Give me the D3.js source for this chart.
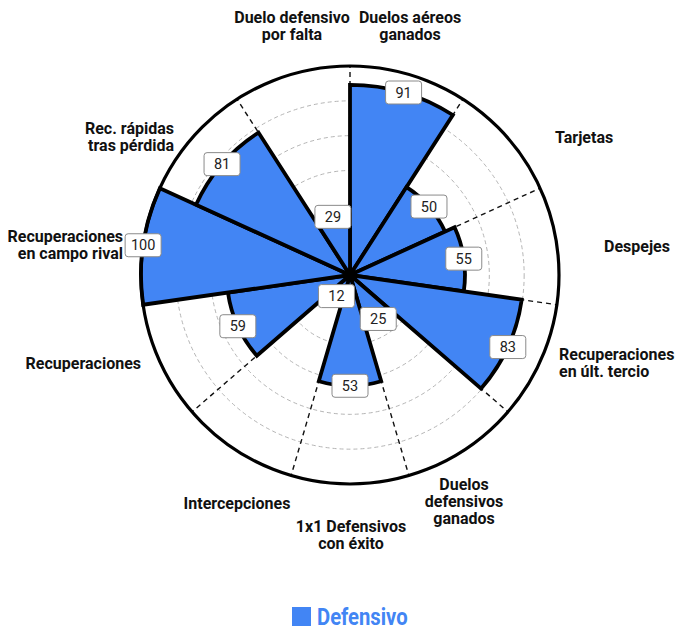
<!DOCTYPE html>
<html>
<head>
<meta charset="utf-8">
<script src="https://cdn.jsdelivr.net/npm/d3@7/dist/d3.min.js"></script>
<style>
  html, body { margin: 0; padding: 0; background: #ffffff; }
  svg { display: block; }
</style>
</head>
<body>
<svg id="chart" width="677" height="629"></svg>
<script>
// ---- data ----
const categories = [
  "Duelos aéreos ganados", "Tarjetas", "Despejes", "Recuperaciones en últ. tercio",
  "Duelos defensivos ganados", "1x1 Defensivos con éxito", "Intercepciones",
  "Recuperaciones", "Recuperaciones en campo rival", "Rec. rápidas tras pérdida",
  "Duelo defensivo por falta"
];
const categoryLines = [
  ["Duelos aéreos", "ganados"], ["Tarjetas"], ["Despejes"], ["Recuperaciones", "en últ. tercio"],
  ["Duelos", "defensivos", "ganados"], ["1x1 Defensivos", "con éxito"], ["Intercepciones"],
  ["Recuperaciones"], ["Recuperaciones", "en campo rival"], ["Rec. rápidas", "tras pérdida"],
  ["Duelo defensivo", "por falta"]
];
const values = [91, 50, 55, 83, 25, 53, 12, 59, 100, 81, 29];
const seriesName = "Defensivo";
const gridTicks = [100/6, 200/6, 50, 400/6, 500/6];
const valueMax = 100;

// ---- layout ----
const W = 677, H = 629;
const cx = 350, cy = 275, R = 209;
const blue = "#4285F4";
// label placement relative to centre: [dx, dy of first baseline, anchor]
const labelLayout = [
  [60, -252, "middle"], [205, -132, "start"], [254, -23.5, "start"], [209, 85, "start"],
  [114, 215, "middle"], [1, 257, "middle"], [-113, 233.5, "middle"], [-209, 93.5, "end"],
  [-227, -33.4, "end"], [-176, -141.4, "end"], [-58, -252, "middle"]
];
const lineH = 17;

const svg = d3.select("#chart");
const g = svg.append("g").attr("transform", `translate(${cx},${cy})`);

const r = d3.scaleLinear().domain([0, valueMax]).range([0, R]);
const n = categories.length;
const angle = d3.scaleBand().domain(d3.range(n)).range([0, 2 * Math.PI]).paddingInner(0).paddingOuter(0);
const step = angle.bandwidth();

// grid rings
g.selectAll("circle.grid").data(gridTicks).join("circle")
  .attr("class", "grid")
  .attr("r", d => r(d))
  .attr("fill", "none")
  .attr("stroke", "#b5b5b5")
  .attr("stroke-width", 1)
  .attr("stroke-dasharray", "4,3");

// radial dashed lines at slice boundaries
g.selectAll("line.spoke").data(d3.range(n)).join("line")
  .attr("class", "spoke")
  .attr("x1", 0).attr("y1", 0)
  .attr("x2", i => r(valueMax) * Math.sin(angle(i)))
  .attr("y2", i => -r(valueMax) * Math.cos(angle(i)))
  .attr("stroke", "#111")
  .attr("stroke-width", 1.4)
  .attr("stroke-dasharray", "5,4");

// bars
const arc = d3.arc()
  .innerRadius(0)
  .outerRadius(d => r(d.v))
  .startAngle(d => angle(d.i))
  .endAngle(d => angle(d.i) + step);

const barData = values.map((v, i) => ({ v, i }));
g.selectAll("path.bar").data(barData).join("path")
  .attr("class", "bar")
  .attr("d", arc)
  .attr("fill", blue)
  .attr("stroke", "#000")
  .attr("stroke-width", 3.8)
  .attr("stroke-linejoin", "miter");

// outer circle
g.append("circle")
  .attr("r", r(valueMax))
  .attr("fill", "none")
  .attr("stroke", "#000")
  .attr("stroke-width", 3.2);

// value boxes
const boxW = 36, boxH = 23;
const vb = g.selectAll("g.vbox").data(barData).join("g")
  .attr("class", "vbox")
  .attr("transform", d => {
    const a = angle(d.i) + step / 2;
    return `translate(${r(d.v) * Math.sin(a)},${-r(d.v) * Math.cos(a)})`;
  });
vb.append("rect")
  .attr("x", -boxW / 2).attr("y", -boxH / 2)
  .attr("width", boxW).attr("height", boxH)
  .attr("rx", 3).attr("ry", 3)
  .attr("fill", "#fff")
  .attr("stroke", "#8a8a8a")
  .attr("stroke-width", 1);
vb.append("text")
  .attr("text-anchor", "middle")
  .attr("dy", "0.36em")
  .attr("font-family", "Roboto, 'Noto Sans', sans-serif")
  .attr("font-size", 14.5)
  .attr("fill", "#222")
  .text(d => d.v);

// category labels
const lab = g.selectAll("text.cat").data(categoryLines).join("text")
  .attr("class", "cat")
  .attr("font-family", "Roboto, 'Noto Sans', sans-serif")
  .attr("font-weight", 700)
  .attr("font-size", 16)
  .attr("fill", "#111")
  .attr("text-anchor", (d, i) => labelLayout[i][2])
  .attr("transform", (d, i) => `translate(${labelLayout[i][0]},${labelLayout[i][1]})`);
lab.selectAll("tspan").data(d => d).join("tspan")
  .attr("x", 0)
  .attr("y", (d, j) => j * lineH)
  .text(d => d);

// legend
const leg = svg.append("g").attr("transform", `translate(${cx - 58},607)`);
leg.append("rect").attr("x", 0).attr("y", 0).attr("width", 19).attr("height", 19).attr("fill", blue);
leg.append("text")
  .attr("x", 25).attr("y", 18)
  .attr("font-family", "Roboto, 'Noto Sans', sans-serif")
  .attr("font-weight", 700)
  .attr("font-size", 23)
  .attr("fill", blue)
  .attr("transform", "translate(25,0) scale(0.88,1) translate(-25,0)")
  .text(seriesName);
</script>
</body>
</html>
